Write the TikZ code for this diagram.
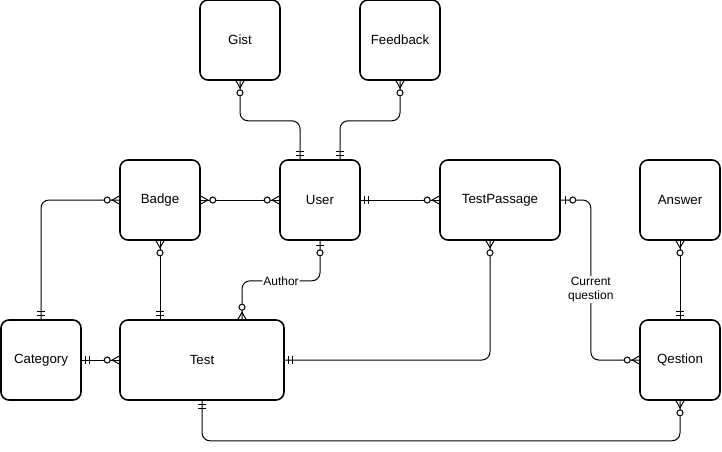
\documentclass[tikz,border=0pt]{standalone}
\usepackage{fontspec}
\setmainfont{Liberation Sans}

% ER tips: one and only one, zero or one, zero or many
\pgfdeclarearrow{
  name = ER mone,
  setup code = {
    \pgfarrowssettipend{0pt}
    \pgfarrowssetlineend{0pt}
    \pgfarrowssetbackend{-9pt}
    \pgfarrowssetvisualbackend{-9pt}
    \pgfarrowshullpoint{0pt}{4pt}
    \pgfarrowshullpoint{-9pt}{4pt}
    \pgfarrowshullpoint{-9pt}{-4pt}
    \pgfarrowshullpoint{0pt}{-4pt}
  },
  drawing code = {
    \pgfpathmoveto{\pgfqpoint{-4pt}{-4pt}}
    \pgfpathlineto{\pgfqpoint{-4pt}{4pt}}
    \pgfpathmoveto{\pgfqpoint{-8pt}{-4pt}}
    \pgfpathlineto{\pgfqpoint{-8pt}{4pt}}
    \pgfusepathqstroke
  }
}
\pgfdeclarearrow{
  name = ER zone,
  setup code = {
    \pgfarrowssettipend{0pt}
    \pgfarrowssetlineend{0pt}
    \pgfarrowssetbackend{-15pt}
    \pgfarrowssetvisualbackend{-15pt}
    \pgfarrowshullpoint{0pt}{4pt}
    \pgfarrowshullpoint{-15pt}{4pt}
    \pgfarrowshullpoint{-15pt}{-4pt}
    \pgfarrowshullpoint{0pt}{-4pt}
  },
  drawing code = {
    \pgfpathmoveto{\pgfqpoint{-5pt}{-4pt}}
    \pgfpathlineto{\pgfqpoint{-5pt}{4pt}}
    \pgfusepathqstroke
    \pgfsetfillcolor{white}
    \pgfpathcircle{\pgfqpoint{-12pt}{0pt}}{3pt}
    \pgfusepathqfillstroke
  }
}
\pgfdeclarearrow{
  name = ER zmany,
  setup code = {
    \pgfarrowssettipend{0pt}
    \pgfarrowssetlineend{0pt}
    \pgfarrowssetbackend{-15pt}
    \pgfarrowssetvisualbackend{-15pt}
    \pgfarrowshullpoint{0pt}{4pt}
    \pgfarrowshullpoint{-15pt}{4pt}
    \pgfarrowshullpoint{-15pt}{-4pt}
    \pgfarrowshullpoint{0pt}{-4pt}
  },
  drawing code = {
    \pgfpathmoveto{\pgfqpoint{0pt}{4pt}}
    \pgfpathlineto{\pgfqpoint{-7pt}{0pt}}
    \pgfpathlineto{\pgfqpoint{0pt}{-4pt}}
    \pgfusepathqstroke
    \pgfsetfillcolor{white}
    \pgfpathcircle{\pgfqpoint{-12pt}{0pt}}{3pt}
    \pgfusepathqfillstroke
  }
}

\tikzset{
  entity/.style={draw, line width=1.6pt, rounded corners=8pt,
    minimum width=80pt, minimum height=80pt,
    font=\fontsize{13.3}{16}\selectfont},
  rel/.style={line width=1pt, rounded corners=8pt},
  rlabel/.style={fill=white, inner sep=1pt, align=center,
    font=\fontsize{12}{14}\selectfont},
}

\begin{document}
\begin{tikzpicture}[x=1pt, y=-1pt]
  \useasboundingbox (0,0) rectangle (722,451);
  \node[entity] (gist) at (240, 40) {Gist};
  \node[entity] (feedback) at (400, 40) {Feedback};
  \node[entity] (badge) at (160, 200) {Badge};
  \node[entity] (user) at (320, 200) {User};
  \node[entity, minimum width=120pt] (passage) at (500, 200) {TestPassage};
  \node[entity] (answer) at (680, 200) {Answer};
  \node[entity] (category) at (41, 360) {Category};
  \node[entity, minimum width=164pt] (test) at (202, 360) {Test};
  \node[entity] (qestion) at (680, 360) {Qestion};
  \draw [rel, {ER zmany}-{ER mone}] (gist.south) -- ++(0, 40) -| ([xshift=-20pt]user.north);
  \draw [rel, {ER zmany}-{ER mone}] (feedback.south) -- ++(0, 40) -| ([xshift=20pt]user.north);
  \draw [rel, {ER zmany}-{ER zmany}] (badge) to (user);
  \draw [rel, {ER mone}-{ER zmany}] (category) |- (badge);
  \draw [rel, {ER zmany}-{ER mone}] (badge) to (badge.south |- test.north);
  \draw [rel, {ER zone}-{ER zmany}] (user.south) -- ++(0, 40) -| node[rlabel, pos=0.25] {Author} ([xshift=40pt]test.north);
  \draw [rel, {ER mone}-{ER zmany}] (user) to (passage);
  \draw [rel, {ER mone}-{ER zmany}] (category) to (test);
  \draw [rel, {ER mone}-{ER zmany}] (test) -| ([xshift=-10pt]passage.south);
  \draw [rel, {ER zone}-{ER zmany}] (passage.east) -- ++(30, 0) |- node[rlabel, pos=0.28] {Current\\question} (qestion);
  \draw [rel, {ER zmany}-{ER mone}] (answer) to (qestion);
  \draw [rel, {ER mone}-{ER zmany}] (test.south) -- ++(0, 40) -| (qestion);
\end{tikzpicture}
\end{document}
